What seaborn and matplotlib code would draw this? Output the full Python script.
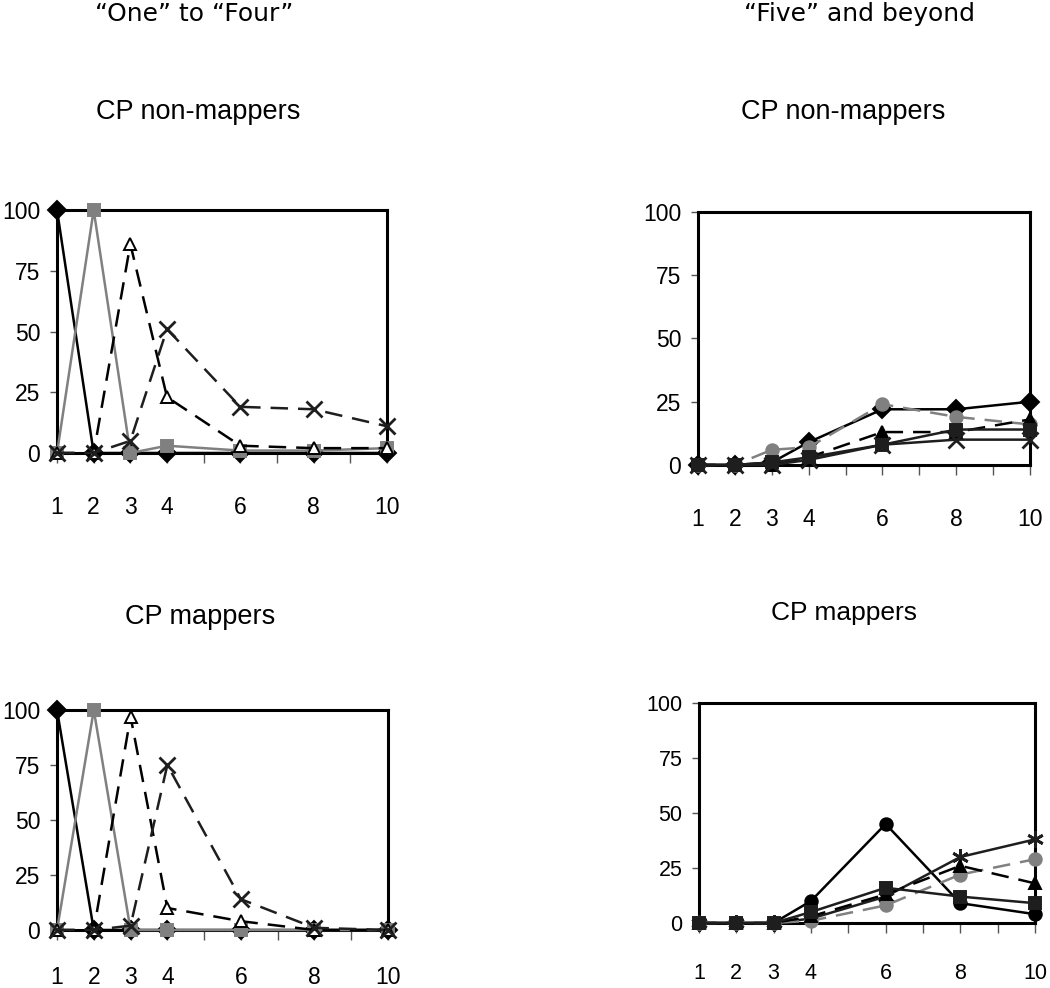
import numpy as np
import pandas as pd
import seaborn as sns
import matplotlib.pyplot as plt

sns.set_style('white')
plt.rcParams['font.family'] = ['DejaVu Sans']
plt.rcParams['text.color'] = 'black'
plt.rcParams['xtick.labelcolor'] = 'black'
plt.rcParams['ytick.labelcolor'] = 'black'

# x positions (number of items)
x_vals = [1, 2, 3, 4, 6, 8, 10]
x_labels = ['1', '2', '3', '4', '', '6', '', '8', '', '10']
y_ticks = [0, 25, 50, 75, 100]

# "One" to "Four", CP non-mappers
nm_one = [100, 0, 0, 0, 0, 0, 0]
nm_two = [0, 100, 0, 3, 1, 1, 2]
nm_three = [0, 0, 86, 23, 3, 2, 2]
nm_four = [0, 0, 5, 51, 19, 18, 11]

# "One" to "Four", CP mappers
m_one = [100, 0, 0, 0, 0, 0, 0]
m_two = [0, 100, 0, 0, 0, 0, 0]
m_three = [0, 0, 97, 10, 4, 0, 0]
m_four = [0, 0, 2, 75, 14, 1, 0]

# "Five" and beyond, CP non-mappers
nm_five = [0, 0, 1, 9, 22, 22, 25]
nm_six = [0, 0, 6, 7, 24, 19, 16]
nm_seven = [0, 0, 0, 3, 13, 13, 18]
nm_eight = [0, 0, 1, 3, 8, 14, 14]
nm_ten = [0, 0, 0, 2, 8, 10, 10]

# "Five" and beyond, CP mappers
m_five = [0, 0, 0, 10, 45, 9, 4]
m_six = [0, 0, 0, 2, 12, 30, 38]
m_seven = [0, 0, 0, 1, 8, 22, 29]
m_eight = [0, 0, 0, 3, 13, 26, 18]
m_ten = [0, 0, 0, 5, 16, 12, 9]

tick_font = ['Liberation Sans', 'DejaVu Sans']
GRAY = '#808080'
DARK = '#1e1e1e'
DASH = (7, 4)
ASTER = (6, 2, 0)

# (color, dashed, marker, marker face)
styles_low = [
    ('black', False, 'D', 'black'),
    (GRAY, False, 's', GRAY),
    ('black', True, '^', 'white'),
    (DARK, True, 'x', DARK),
]
styles_nm_high = [
    ('black', False, 'D', 'black'),
    (GRAY, True, 'o', GRAY),
    ('black', True, '^', 'black'),
    (DARK, False, 's', DARK),
    (DARK, False, 'x', DARK),
]
styles_m_high = [
    ('black', False, 'o', 'black'),
    (DARK, False, ASTER, DARK),
    (GRAY, True, 'o', GRAY),
    ('black', True, '^', 'black'),
    (DARK, False, 's', DARK),
]


def draw_panel(ax, series, styles, label_size, x_pad):
    for vals, (col, dashed, mk, face) in zip(series, styles):
        big = mk in ('x', ASTER)
        sns.lineplot(x=x_vals, y=vals, ax=ax, color=col, lw=1.8,
                     linestyle='--' if dashed else '-',
                     marker=mk, markersize=12 if big else 9,
                     markerfacecolor=face, markeredgecolor=col,
                     markeredgewidth=2 if big else 1.4,
                     clip_on=False, zorder=3)
        if dashed:
            ax.lines[-1].set_dashes(DASH)
    ax.set_xlim(1, 10)
    ax.set_ylim(0, 100)
    ax.set_xticks(range(1, 11))
    ax.set_xticklabels(x_labels)
    ax.set_yticks(y_ticks)
    ax.set_yticklabels([str(v) for v in y_ticks])
    for lab in ax.get_xticklabels() + ax.get_yticklabels():
        lab.set_family(tick_font)
        lab.set_fontsize(label_size)
    ax.tick_params(axis='x', direction='out', length=7, width=1, pad=x_pad,
                   color='#555555', bottom=True)
    ax.tick_params(axis='y', direction='out', length=5, width=1, pad=7,
                   color='#555555', left=True)
    for sp in ax.spines.values():
        sp.set_linewidth(2.2)
        sp.set_color('black')
        sp.set_visible(True)
    ax.set_xlabel('')
    ax.set_ylabel('')


fig = plt.figure(figsize=(10.5, 9.88), dpi=100)

ax1 = fig.add_axes([0.0543, 0.5415, 0.3143, 0.2459])
ax2 = fig.add_axes([0.6648, 0.5294, 0.3162, 0.2561])
ax3 = fig.add_axes([0.0543, 0.0587, 0.3152, 0.2227])
ax4 = fig.add_axes([0.6657, 0.0658, 0.3200, 0.2227])

draw_panel(ax1, [nm_one, nm_two, nm_three, nm_four], styles_low, 16.5, 24)
draw_panel(ax2, [nm_five, nm_six, nm_seven, nm_eight, nm_ten],
           styles_nm_high, 16.5, 24)
draw_panel(ax3, [m_one, m_two, m_three, m_four], styles_low, 16.5, 19)
draw_panel(ax4, [m_five, m_six, m_seven, m_eight, m_ten],
           styles_m_high, 15.5, 22)

fig.text(194 / 1050, 1 - 14 / 988, '\u201cOne\u201d to \u201cFour\u201d',
         ha='center', va='center', fontsize=18)
fig.text(859 / 1050, 1 - 14 / 988, '\u201cFive\u201d and beyond',
         ha='center', va='center', fontsize=18)
fig.text(198 / 1050, 1 - 112 / 988, 'CP non-mappers', ha='center',
         va='center', fontsize=19.5, family=tick_font)
fig.text(843 / 1050, 1 - 112 / 988, 'CP non-mappers', ha='center',
         va='center', fontsize=19.5, family=tick_font)
fig.text(200 / 1050, 1 - 617 / 988, 'CP mappers', ha='center',
         va='center', fontsize=19.5, family=tick_font)
fig.text(844 / 1050, 1 - 613 / 988, 'CP mappers', ha='center',
         va='center', fontsize=19, family=tick_font)

fig.savefig('out.png', dpi=100)
